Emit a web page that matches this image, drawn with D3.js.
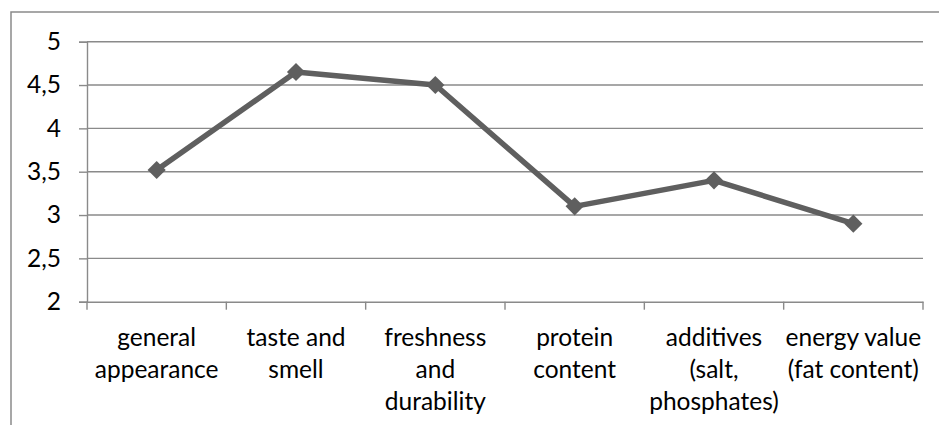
<!DOCTYPE html>
<html><head><meta charset="utf-8">
<script src="https://cdn.jsdelivr.net/npm/d3@7"></script>
<style>body{margin:0;background:#fff}svg{display:block}text{font-family:Lato,"Noto Sans",sans-serif;fill:#000}</style>
</head><body>
<svg id="c" width="939" height="425"></svg>
<script>
const categories = ["general\nappearance","taste and\nsmell","freshness\nand\ndurability","protein\ncontent","additives\n(salt,\nphosphates)","energy value\n(fat content)"];
const values = [3.52, 4.65, 4.5, 3.1, 3.4, 2.9];
const yTicks = [2, 2.5, 3, 3.5, 4, 4.5, 5];
const yTickLabels = ["2","2,5","3","3,5","4","4,5","5"];

const svg = d3.select("#c");
const L = 87, R = 923, T = 41.7, B = 301.7;
const gridColor = "#8a8a8a", lineColor = "#5f5f5f";
const fs = 24.5;

// outer chart border (only top and left visible)
svg.append("path").attr("d", `M11,425 V12 H939`).attr("fill","none").attr("stroke",gridColor).attr("stroke-width",1.5);

const x = d3.scaleBand().domain(categories).range([L, R]).padding(0);
const y = d3.scaleLinear().domain([2,5]).range([B, T]);

// gridlines
svg.append("g").selectAll("line").data(yTicks.slice(1)).join("line")
  .attr("x1", L).attr("x2", R).attr("y1", d=>y(d)).attr("y2", d=>y(d))
  .attr("stroke", gridColor).attr("stroke-width",1.4);

// y axis
const yAxis = svg.append("g").attr("transform",`translate(${L},0)`)
  .call(d3.axisLeft(y).tickValues(yTicks).tickSize(8).tickPadding(18).tickFormat((d,i)=>yTickLabels[i]));
yAxis.select(".domain").attr("stroke",gridColor).attr("stroke-width",1.4);
yAxis.selectAll(".tick line").attr("stroke",gridColor).attr("stroke-width",1.4);
yAxis.selectAll(".tick text").attr("font-size",fs).attr("font-family","Lato").attr("fill","#000");

// x axis
const xAxis = svg.append("g").attr("transform",`translate(0,${B})`)
  .call(d3.axisBottom(x).tickSize(0).tickFormat(""));
xAxis.select(".domain").attr("stroke",gridColor).attr("stroke-width",1.4);
const bounds = categories.map(c=>x(c)).concat([R]);
svg.append("g").selectAll("line").data(bounds).join("line")
  .attr("x1",d=>d).attr("x2",d=>d).attr("y1",B).attr("y2",B+8)
  .attr("stroke",gridColor).attr("stroke-width",1.4);

// category labels
const lab = svg.append("g").selectAll("text").data(categories).join("text")
  .attr("text-anchor","middle").attr("font-size",fs)
  .attr("x", d=>x(d)+x.bandwidth()/2).attr("y", B+44);
lab.each(function(d){
  const t = d3.select(this);
  d.split("\n").forEach((s,i)=>{
    t.append("tspan").attr("x", x(d)+x.bandwidth()/2).attr("dy", i===0?0:32).text(s);
  });
});

// line
const cx = (d,i)=>x(categories[i])+x.bandwidth()/2;
svg.append("path").datum(values)
  .attr("d", d3.line().x((d,i)=>cx(d,i)).y(d=>y(d)))
  .attr("fill","none").attr("stroke",lineColor).attr("stroke-width",5.5).attr("stroke-linejoin","round");

// markers
svg.append("g").selectAll("path").data(values).join("path")
  .attr("d", d3.symbol().type(d3.symbolSquare).size(165))
  .attr("transform",(d,i)=>`translate(${cx(d,i)},${y(d)}) rotate(45)`)
  .attr("fill",lineColor);
</script>
</body></html>
